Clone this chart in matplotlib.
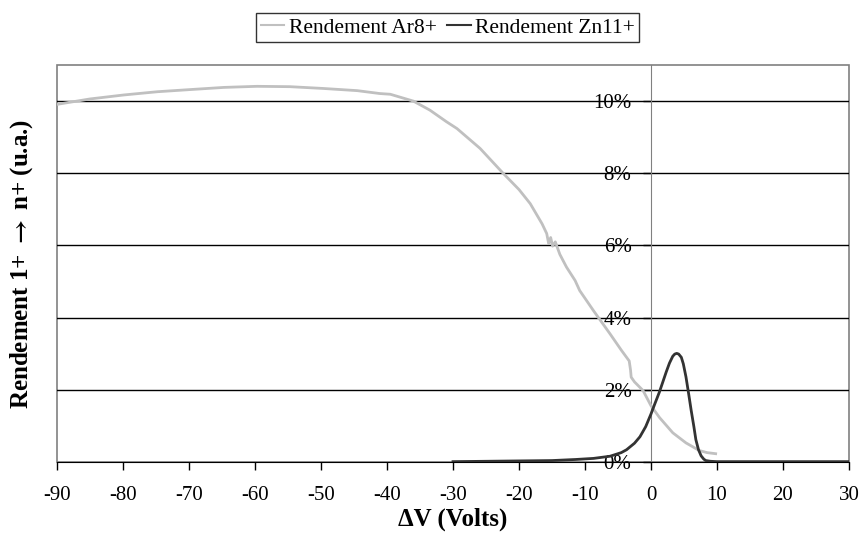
import numpy as np
import matplotlib.pyplot as plt
from matplotlib.patches import Rectangle
from matplotlib.ticker import FuncFormatter

# Rendement Ar8+ (gris clair)
dv_ar = [-90, -85, -79.9, -74.8, -69.8, -64.7, -59.7, -54.7, -49.6, -44.5, -41.1,
         -39.5, -36.0, -33.5, -31.0, -29.4, -25.9, -22.4, -20.0, -18.3, -16.5,
         -15.8, -15.5, -15.2, -14.9, -14.5, -13.8, -12.8, -11.5, -10.8, -8.7,
         -6.2, -4.5, -3.3, -3.1, -3.0, -2.5, -1.2, 0.0, 1.3, 3.3, 5.3, 7.3, 8.5, 9.8]
y_ar = [9.91, 10.06, 10.17, 10.26, 10.32, 10.38, 10.41, 10.40, 10.35, 10.29, 10.21,
        10.19, 10.00, 9.75, 9.43, 9.24, 8.69, 8.00, 7.55, 7.16, 6.60,
        6.33, 6.05, 6.22, 5.98, 6.10, 5.75, 5.40, 5.03, 4.75, 4.19,
        3.55, 3.10, 2.80, 2.55, 2.35, 2.22, 1.98, 1.56, 1.23, 0.81, 0.53, 0.32, 0.26, 0.23]

# Rendement Zn11+ (gris foncé)
dv_zn = [-30, -25, -20, -15, -13.8, -11.4, -8.7, -6.2, -4.5, -3.7, -2.5, -1.67, -0.8,
         0.0, 0.6, 1.26, 1.8, 2.3, 2.8, 3.3, 3.6, 3.9, 4.2, 4.6, 4.9, 5.3, 5.7,
         6.1, 6.5, 6.8, 7.2, 7.6, 8.0, 8.3, 9.0, 10, 15, 20, 25, 30]
y_zn = [0.01, 0.02, 0.03, 0.04, 0.05, 0.07, 0.10, 0.16, 0.26, 0.34, 0.52, 0.70, 0.98,
        1.33, 1.62, 1.93, 2.22, 2.49, 2.74, 2.93, 2.99, 3.01, 2.99, 2.90, 2.72, 2.36, 1.90,
        1.42, 0.98, 0.62, 0.34, 0.17, 0.08, 0.04, 0.02, 0.01, 0.01, 0.01, 0.01, 0.01]

x_ticks = np.arange(-90, 31, 10)
y_ticks = np.arange(0, 11, 2)

plt.rcParams['font.family'] = ['Liberation Serif', 'DejaVu Serif']
plt.rcParams['mathtext.fontset'] = 'stix'
plt.rcParams['axes.unicode_minus'] = False

fig = plt.figure(figsize=(8.64, 5.33), dpi=100)
ax = fig.add_axes([0.066, 0.1332, 0.9166, 0.7448])

ax.plot(dv_ar, y_ar, color='#c0c0c0', lw=2, label='Rendement Ar8+', zorder=3)
ax.plot(dv_zn, y_zn, color='#333333', lw=2, label='Rendement Zn11+', zorder=4)

ax.set_xlim(-90, 30)
ax.set_ylim(0, 11)
ax.set_xticks(x_ticks)
ax.set_yticks(y_ticks)
ax.yaxis.set_major_formatter(FuncFormatter(lambda v, p: '%d%%' % v))

# grille horizontale
for t in y_ticks[1:]:
    ax.axhline(t, color='black', lw=1, zorder=1)

# axe Y placé en x = 0
ax.spines['left'].set_position(('data', 0))
ax.spines['left'].set_color('#808080')
ax.spines['left'].set_zorder(2)
ax.spines['top'].set_visible(False)
ax.spines['right'].set_visible(False)
ax.spines['bottom'].set_color('black')
ax.add_patch(Rectangle((0, 0), 1, 1, transform=ax.transAxes, fill=False,
                       edgecolor='#808080', lw=1.2, zorder=0, clip_on=False))

ax.tick_params(axis='x', direction='out', length=6, width=1, pad=11, labelsize=15)
ax.tick_params(axis='y', direction='out', length=6, width=1, pad=8, labelsize=15,
               color='black')

ax.set_xlabel('ΔV (Volts)', fontsize=18, fontweight='bold', labelpad=2)
ax.set_ylabel(r'Rendement 1+ $\mathbf{\rightarrow}$ n+ (u.a.)', fontsize=18,
              fontweight='bold')
ax.yaxis.set_label_coords(-0.028, 0.5, transform=ax.transAxes)

leg = fig.legend(loc='center', bbox_to_anchor=(0.5185, 0.948), ncol=2, fontsize=15.5,
                 frameon=True, fancybox=False, handlelength=1.1, handletextpad=0.2,
                 columnspacing=0.5, borderpad=0.2)
leg.get_frame().set_edgecolor('black')
leg.get_frame().set_linewidth(1)
for h in leg.get_lines():
    h.set_linewidth(1.5)

fig.savefig('out.png', dpi=100)
